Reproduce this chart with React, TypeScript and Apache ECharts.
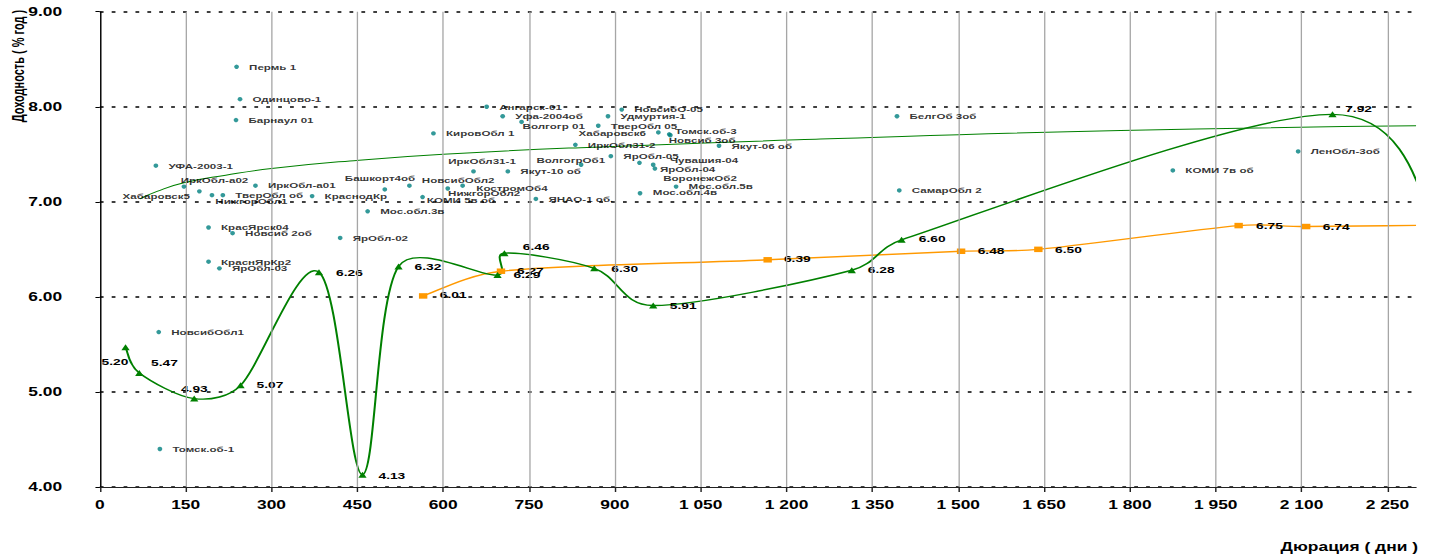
import React, { useEffect, useRef } from 'react';
import * as echarts from 'echarts';

// horizontal stretch of the reference picture
const S = 1.45;
const CW = 1434 / S;
const CH = 559;
const FONT = '"Liberation Sans", Arial, Helvetica, sans-serif';

const xTicks = [0, 150, 300, 450, 600, 750, 900, 1050, 1200, 1350, 1500, 1650, 1800, 1950, 2100, 2250];

const scatterNames = ['Пермь 1', 'Одинцово-1', 'Барнаул 01', 'УФА-2003-1', 'ИркОбл-а02', 'ИркОбл-а01', 'Хабаровск5', 'НижгорОбл1', 'ТверОбл об', 'КраснодКр', 'Ангарск-01', 'Уфа-2004об', 'Волгогр 01', 'КировОбл 1', 'ИркОбл31-2', 'ИркОбл31-1', 'Якут-10 об', 'ВолгогрОб1', 'ЯрОбл-05', 'Башкорт4об', 'НовсибОбл2', 'КостромОб4', 'НижгорОбл2', 'КОМИ 5в об', 'ЯНАО-1 об.', 'Мос.обл.3в', 'Мос.обл.4в', 'НовсибО-05', 'Удмуртия-1', 'ТверОбл 05', 'Хабаровск6', 'Томск.об-3', 'Новсиб 3об', 'Якут-06 об', 'Чувашия-04', 'ЯрОбл-04', 'ВоронежОб2', 'Мос.обл.5в', 'БелгОб 3об', 'СамарОбл 2', 'КОМИ 7в об', 'ЛенОбл-3об', 'КрасЯрск04', 'Новсиб 2об', 'ЯрОбл-02', 'КраснЯрКр2', 'ЯрОбл-03', 'НовсибОбл1', 'Томск.об-1'];
const scatterX = [239, 245, 238, 98, 147, 272, 174, 196, 215, 371, 676, 704, 737, 583, 831, 653, 713, 841, 893, 498, 541, 634, 608, 564, 762, 468, 944, 912, 888, 871, 976, 995, 997, 1082, 967, 970, 943, 1007, 1393, 1397, 1875, 2094, 190, 232, 420, 190, 209, 103, 105];
const scatterY = [8.42, 8.08, 7.86, 7.38, 7.16, 7.17, 7.11, 7.07, 7.07, 7.06, 8.0, 7.9, 7.84, 7.72, 7.6, 7.32, 7.32, 7.39, 7.48, 7.13, 7.17, 7.17, 7.14, 7.05, 7.03, 6.9, 7.09, 7.97, 7.9, 7.8, 7.73, 7.71, 7.7, 7.59, 7.39, 7.35, 7.41, 7.16, 7.9, 7.12, 7.33, 7.53, 6.73, 6.67, 6.62, 6.37, 6.3, 5.63, 4.4];

const greenX = [45, 69, 165, 246, 383, 459, 522, 695, 707, 864, 967, 1314, 1401, 2154, 2343];
const greenY = [5.47, 5.2, 4.93, 5.07, 6.26, 4.13, 6.32, 6.23, 6.46, 6.3, 5.91, 6.28, 6.6, 7.92, 6.55];
const greenLabels = ['5.20', '5.47', '4.93', '5.07', '6.26', '4.13', '6.32', '6.29', '6.46', '6.30', '5.91', '6.28', '6.60', '7.92', ''];

const orangeX = [565, 701, 1167, 1505, 1640, 1990, 2108, 2400];
const orangeY = [6.01, 6.27, 6.39, 6.48, 6.5, 6.75, 6.74, 6.76];
const orangeLabels = ['6.01', '6.27', '6.39', '6.48', '6.50', '6.75', '6.74', ''];

const trendX = [70, 100, 147, 220, 300, 437, 600, 840, 1259, 1784, 2300];
const trendY = [7.03, 7.11, 7.2, 7.28, 7.35, 7.43, 7.5, 7.57, 7.66, 7.75, 7.8];

// label placement (screen px, relative to the marker centre)
const scatterLabelAdj: Record<string, [number, number, string?]> = {
  'ИркОбл-а02': [-3.3, -6.7],
  'Хабаровск5': [-9.3, 5, 'right'],
  'НижгорОбл1': [3.3, 6.3],
  'Волгогр 01': [1, 4.4],
  'ИркОбл31-1': [-25.3, -10.3],
  'ВолгогрОб1': [-44.7, -5],
  'Башкорт4об': [-40, -11.3],
  'НовсибОбл2': [12.4, -5.3],
  'КостромОб4': [13.7, 2.3],
  'НижгорОбл2': [0.3, 5],
  'КОМИ 5в об': [4.3, 3.3],
  'Хабаровск6': [-12.3, 0.3, 'right'],
  'Томск.об-3': [5.7, -3.3],
  'Новсиб 3об': [-1.7, 5.2],
  'Чувашия-04': [16.7, -4.3],
  'ЯрОбл-04': [5, 0.6],
  'ВоронежОб2': [23.7, 15.6],
  'Мос.обл.4в': [12.7, -1],
};
const greenDx = [-24, 11.7, -13.3, 16, 17, 16, 16, 16, 18.4, 17, 16.6, 16, 17.3, 12.7, 0];
const greenDy = [14.6, -10, -10, 0, 0.4, 1, 0, -0.7, -6, 0, 0, 0, -1, -6, 0];
const orangeDx = [16.7, 16, 16.3, 16.6, 16.7, 17.4, 16.6, 0];
const orangeDy = [-1, 0, -0.7, 0, 0.4, 0, 0.3, 0];

const fmtX = (v: number) =>
  v >= 1000 ? `${Math.floor(v / 1000)} ${String(v % 1000).padStart(3, '0')}` : String(v);

// spreadsheet-style smoothed line (Bezier, tangents of (next - prev) / 6,
// limited to a share of the segment length so short segments do not loop)
const clampVec = (vx: number, vy: number, maxLen: number) => {
  const l = Math.hypot(vx, vy);
  if (l <= maxLen || l === 0) return [vx, vy];
  return [(vx * maxLen) / l, (vy * maxLen) / l];
};
const smoothPath = (pts: number[][]) => {
  const n = pts.length;
  let d = `M${pts[0][0]},${pts[0][1]}`;
  for (let i = 0; i < n - 1; i++) {
    const p0 = pts[Math.max(i - 1, 0)];
    const p1 = pts[i];
    const p2 = pts[i + 1];
    const p3 = pts[Math.min(i + 2, n - 1)];
    const seg = Math.hypot(p2[0] - p1[0], p2[1] - p1[1]);
    const t1 = clampVec((p2[0] - p0[0]) / 6, (p2[1] - p0[1]) / 6, seg * 0.4);
    const t2 = clampVec((p3[0] - p1[0]) / 6, (p3[1] - p1[1]) / 6, seg * 0.4);
    d += ` C${p1[0] + t1[0]},${p1[1] + t1[1]} ${p2[0] - t2[0]},${p2[1] - t2[1]} ${p2[0]},${p2[1]}`;
  }
  return d;
};

const curveSeries = (xs: number[], ys: number[], color: string) => ({
  type: 'custom',
  data: [[xs[0], ys[0]]],
  z: 3,
  silent: true,
  clip: true,
  renderItem: (params: any, api: any) => {
    const pts = xs.map((x, i) => api.coord([x, ys[i]]));
    const cs = params.coordSys;
    return {
      type: 'path',
      shape: { pathData: smoothPath(pts) },
      style: { stroke: color, lineWidth: 1.4, fill: 'none' },
      clipPath: { type: 'rect', shape: { x: cs.x, y: cs.y, width: cs.width, height: cs.height } },
    };
  },
});

export default function App() {
  const ref = useRef<HTMLDivElement>(null);
  useEffect(() => {
    if (!ref.current) return;
    const chart = echarts.init(ref.current, undefined, { renderer: 'svg' });

    const scatterData = scatterNames.map((n, i) => {
      const adj = scatterLabelAdj[n] || [12.5, 0];
      return {
        name: n,
        value: [scatterX[i], scatterY[i]],
        label: { offset: [adj[0] / S, adj[1]], align: adj[2] || 'left' },
      };
    });
    const greenData = greenX.map((x, i) => ({
      value: [x, greenY[i]],
      label: { show: greenLabels[i] !== '', formatter: greenLabels[i], offset: [greenDx[i] / S, greenDy[i]] },
    }));
    const orangeData = orangeX.map((x, i) => ({
      value: [x, orangeY[i]],
      label: { show: orangeLabels[i] !== '', formatter: orangeLabels[i], offset: [orangeDx[i] / S, orangeDy[i]] },
    }));
    const valueLabel = {
      show: true,
      position: 'inside',
      align: 'left',
      verticalAlign: 'middle',
      color: '#000',
      fontWeight: 'bold',
      fontSize: 9.5,
      fontFamily: FONT,
    };

    chart.setOption({
      animation: false,
      backgroundColor: '#fff',
      grid: { left: 99.8 / S, right: (1434 - 1416) / S, top: 11.7, bottom: 72, containLabel: false, outerBoundsMode: 'none' },
      xAxis: {
        type: 'value',
        min: 0,
        max: 2300,
        interval: 150,
        axisLine: { show: true, onZero: false, lineStyle: { color: '#222', width: 1 } },
        axisTick: { show: true, length: 5, lineStyle: { color: '#222' }, customValues: xTicks },
        axisLabel: {
          customValues: xTicks,
          formatter: (v: number) => fmtX(v),
          color: '#000',
          fontWeight: 'bold',
          fontSize: 12,
          fontFamily: FONT,
          margin: 12,
        },
        splitLine: { show: false },
      },
      yAxis: {
        type: 'value',
        min: 4,
        max: 9,
        interval: 1,
        axisLine: { show: true, lineStyle: { color: '#000', width: 1 } },
        axisTick: { show: true, length: 3, lineStyle: { color: '#000' } },
        axisLabel: {
          formatter: (v: number) => v.toFixed(2),
          color: '#000',
          fontWeight: 'bold',
          fontSize: 12,
          fontFamily: FONT,
          margin: 26,
        },
        splitLine: { show: true, lineStyle: { color: '#000', width: 1.6, type: [2.6, 5.6] } },
      },
      graphic: [
        {
          type: 'text',
          right: (1434 - 1418) / S,
          top: 541,
          style: { text: 'Дюрация ( дни )', font: `bold 12px ${FONT}`, fill: '#000' },
        },
        {
          type: 'text',
          x: 18.5 / S,
          y: 66,
          rotation: Math.PI / 2,
          style: {
            text: 'Доходность ( % год )',
            font: `bold 11px ${FONT}`,
            fill: '#000',
            align: 'center',
            verticalAlign: 'middle',
          },
        },
      ],
      series: [
        {
          type: 'line',
          data: [],
          z: 1,
          silent: true,
          markLine: {
            silent: true,
            symbol: ['none', 'none'],
            label: { show: false },
            lineStyle: { color: '#a6a6a6', width: 0.9, type: 'solid' },
            data: xTicks.slice(1).map((v) => ({ xAxis: v })),
          },
        },
        {
          type: 'line',
          data: trendX.map((x, i) => [x, trendY[i]]),
          smooth: true,
          symbol: 'none',
          silent: true,
          z: 2,
          lineStyle: { color: '#008000', width: 1 },
        },
        curveSeries(orangeX, orangeY, '#FF9900'),
        curveSeries(greenX, greenY, '#008000'),
        {
          type: 'line',
          data: orangeData,
          symbol: 'rect',
          symbolSize: [5.8, 5.5],
          showAllSymbol: true,
          z: 4,
          lineStyle: { opacity: 0 },
          itemStyle: { color: '#FF9900' },
          label: valueLabel,
        },
        {
          type: 'line',
          data: greenData,
          symbol: 'triangle',
          symbolSize: [5.7, 6],
          showAllSymbol: true,
          z: 4,
          lineStyle: { opacity: 0 },
          itemStyle: { color: '#008000' },
          label: valueLabel,
        },
        {
          type: 'scatter',
          data: scatterData,
          symbol: 'circle',
          symbolSize: [3.3, 4.4],
          z: 5,
          itemStyle: { color: '#008080' },
          label: {
            show: true,
            formatter: '{b}',
            position: 'inside',
            verticalAlign: 'middle',
            color: '#000',
            fontWeight: 'bold',
            fontSize: 8,
            fontFamily: FONT,
          },
        },
      ],
    });
    return () => chart.dispose();
  }, []);

  return (
    <div
      ref={ref}
      style={{
        position: 'absolute',
        left: 0,
        top: 0,
        width: CW,
        height: CH,
        transform: `scaleX(${S})`,
        transformOrigin: '0 0',
      }}
    />
  );
}
